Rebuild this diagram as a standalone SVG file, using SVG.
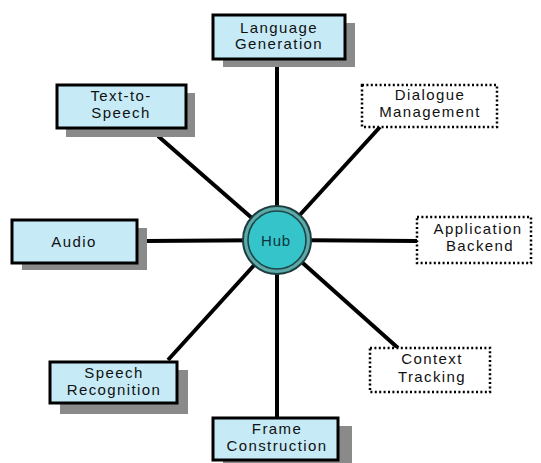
<svg xmlns="http://www.w3.org/2000/svg" width="541" height="463" viewBox="0 0 541 463">
  <style>
    .shadow { fill: #8a8a8a; }
    .box { fill: #c6ebf7; stroke: #000; stroke-width: 3; }
    .dotted { fill: #fff; stroke: #000; stroke-width: 2.5; stroke-dasharray: 2 2.4; }
    .link { stroke: #000; stroke-width: 4; stroke-linecap: butt; }
    text { font-family: "Liberation Sans", Arial, sans-serif; font-size: 15px; letter-spacing: 1.4px; fill: #111; text-anchor: middle; }
  </style>
  <rect width="541" height="463" fill="#fff"/>

  <!-- spokes from the hub to every component -->
  <g id="connectors">
    <line class="link" x1="277" y1="240" x2="277" y2="59"/>
    <line class="link" x1="277" y1="240" x2="277" y2="418"/>
    <line class="link" x1="277" y1="240" x2="146" y2="241"/>
    <line class="link" x1="277" y1="240" x2="417" y2="241"/>
    <line class="link" x1="277" y1="240" x2="158" y2="136"/>
    <line class="link" x1="277" y1="240" x2="380" y2="127"/>
    <line class="link" x1="277" y1="240" x2="168" y2="360"/>
    <line class="link" x1="277" y1="240" x2="398" y2="348"/>
  </g>

  <g id="hub">
    <circle cx="277" cy="240" r="34" fill="#5da9aa" stroke="#1b3d3e" stroke-width="2"/>
    <circle cx="277" cy="240" r="29" fill="#35c4c9" stroke="#1c4546" stroke-width="1.6"/>
    <text x="276" y="246" style="font-size:15px;letter-spacing:0.8px;fill:#0c3540">Hub</text>
  </g>

  <g id="language-generation">
    <rect class="shadow" x="223" y="23" width="132" height="44"/>
    <rect class="box" x="213" y="15" width="132" height="44"/>
    <text x="279" y="33">Language</text>
    <text x="279" y="49">Generation</text>
  </g>

  <g id="text-to-speech">
    <rect class="shadow" x="66" y="93" width="129" height="44"/>
    <rect class="box" x="57" y="85" width="129" height="43"/>
    <text x="121" y="101">Text-to-</text>
    <text x="121" y="118">Speech</text>
  </g>

  <g id="dialogue-management">
    <rect class="dotted" x="362" y="85" width="135" height="42"/>
    <text x="430" y="100">Dialogue</text>
    <text x="430" y="117">Management</text>
  </g>

  <g id="audio">
    <rect class="shadow" x="22" y="228" width="125" height="42"/>
    <rect class="box" x="12" y="220" width="125" height="43"/>
    <text x="74" y="247">Audio</text>
  </g>

  <g id="application-backend">
    <rect class="dotted" x="417" y="217" width="114" height="46"/>
    <text x="478" y="234">Application</text>
    <text x="480" y="251">Backend</text>
  </g>

  <g id="context-tracking">
    <rect class="dotted" x="370" y="348" width="120" height="44"/>
    <text x="432" y="364">Context</text>
    <text x="432" y="382">Tracking</text>
  </g>

  <g id="speech-recognition">
    <rect class="shadow" x="60" y="370" width="128" height="44"/>
    <rect class="box" x="50" y="362" width="127" height="41"/>
    <text x="114" y="378">Speech</text>
    <text x="114" y="395">Recognition</text>
  </g>

  <g id="frame-construction">
    <rect class="shadow" x="223" y="426" width="129" height="37"/>
    <rect class="box" x="213" y="418" width="125" height="42"/>
    <text x="277" y="434">Frame</text>
    <text x="277" y="451">Construction</text>
  </g>
</svg>
